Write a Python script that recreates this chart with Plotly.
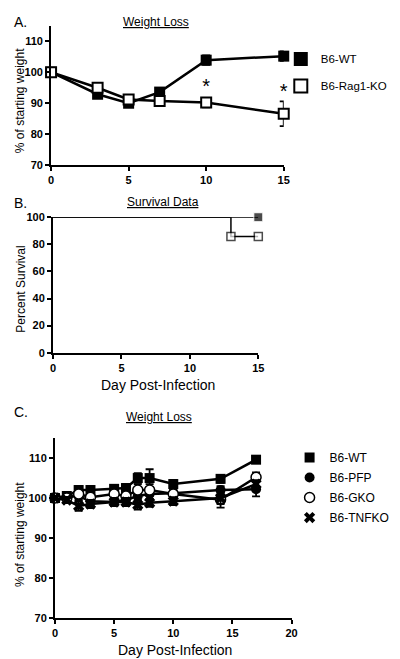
import plotly.graph_objects as go

W, H = 400, 659

# ---------- Data ----------
# Panel A: weight loss
days_a = [0, 3, 5, 7, 10, 15]
wt_a = [100, 92.9, 90.0, 93.6, 103.9, 105.2]
wt_a_err = [0.6, 0.8, 0.8, 1.0, 1.5, 1.5]
ko_a = [100, 95.0, 91.2, 90.7, 90.2, 86.6]
ko_a_err = [0.5, 0.8, 0.8, 0.8, 1.5, 4.0]
star_days = [10, 15]
star_vals = [95.0, 93.2]

# Panel B: survival
surv_wt_days = [0, 15]
surv_wt = [100, 100]
surv_ko_days = [0, 13, 15]
surv_ko = [100, 85.7, 85.7]

# Panel C: weight loss, knockouts
days_c = [0, 1, 2, 3, 5, 6, 7, 8, 10, 14, 17]
wt_c = [100, 100.5, 102.0, 102.0, 102.3, 102.5, 105.0, 105.0, 103.5, 104.8, 109.6]
wt_c_err = [0.5, 0.8, 1.0, 1.0, 1.0, 1.0, 1.2, 2.2, 1.0, 1.0, 0.8]
pfp_c = [100, 100.2, 100.5, 99.2, 99.0, 99.5, 100.5, 101.0, 101.2, 102.0, 102.2]
pfp_c_err = [0.5, 0.8, 1.0, 1.0, 1.0, 1.0, 1.2, 1.2, 1.0, 1.0, 1.8]
gko_c = [100, 100.0, 101.0, 100.2, 101.0, 100.5, 102.0, 102.0, 101.0, 99.6, 105.2]
gko_c_err = [0.5, 0.8, 1.0, 1.0, 1.0, 1.0, 1.5, 1.5, 1.0, 2.0, 1.2]
tnf_c = [100, 99.5, 98.0, 98.5, 99.0, 99.0, 98.3, 98.8, 99.2, 100.0, 103.5]
tnf_c_err = [0.5, 0.8, 1.2, 1.0, 1.0, 1.0, 1.2, 1.0, 1.0, 1.5, 1.0]

ticks_a_x = [0, 5, 10, 15]
ticks_a_y = [70, 80, 90, 100, 110]
ticks_b_y = [0, 20, 40, 60, 80, 100]
ticks_c_x = [0, 5, 10, 15, 20]

FAM = "Liberation Sans, Arial"

fig = go.Figure()

def eb(arr):
    return dict(type="data", array=arr, visible=True, color="black", thickness=1.8, width=4)

# Panel A traces
fig.add_trace(go.Scatter(x=days_a, y=wt_a, error_y=eb(wt_a_err), mode="lines+markers",
                         line=dict(color="black", width=2.5),
                         marker=dict(symbol="square", size=11, color="black"),
                         showlegend=False, cliponaxis=False, xaxis="x", yaxis="y"))
fig.add_trace(go.Scatter(x=days_a, y=ko_a, error_y=eb(ko_a_err), mode="lines+markers",
                         line=dict(color="black", width=2.5),
                         marker=dict(symbol="square", size=10, color="white",
                                     line=dict(color="black", width=2)),
                         showlegend=False, cliponaxis=False, xaxis="x", yaxis="y"))
fig.add_trace(go.Scatter(x=star_days, y=star_vals, mode="text", text=["*", "*"],
                         textfont=dict(family=FAM, size=20, color="black"),
                         showlegend=False, cliponaxis=False, xaxis="x", yaxis="y"))
# legend entries A (markers only)
fig.add_trace(go.Scatter(x=[None], y=[None], mode="markers", name="B6-WT", legend="legend",
                         marker=dict(symbol="square", size=14, color="black"),
                         xaxis="x", yaxis="y", legendgroup="a1"))
fig.add_trace(go.Scatter(x=[None], y=[None], mode="markers", name="B6-Rag1-KO", legend="legend",
                         marker=dict(symbol="square", size=13, color="white",
                                     line=dict(color="black", width=2)),
                         xaxis="x", yaxis="y", legendgroup="a2"))

# Panel B traces
fig.add_trace(go.Scatter(x=surv_wt_days, y=surv_wt, mode="lines+markers",
                         line=dict(color="black", width=1.5, shape="hv"),
                         marker=dict(symbol="square", size=[0, 9], color="black"),
                         showlegend=False, cliponaxis=False, xaxis="x2", yaxis="y2"))
fig.add_trace(go.Scatter(x=surv_ko_days, y=surv_ko, mode="lines+markers",
                         line=dict(color="black", width=1.5, shape="hv"),
                         marker=dict(symbol="square", size=[0, 8, 8], color="white",
                                     line=dict(color="black", width=1.5)),
                         showlegend=False, cliponaxis=False, xaxis="x2", yaxis="y2"))

# Panel C traces
series_c = [
    ("B6-WT", wt_c, wt_c_err, dict(symbol="square", size=10, color="black")),
    ("B6-PFP", pfp_c, pfp_c_err, dict(symbol="circle", size=10, color="black")),
    ("B6-GKO", gko_c, gko_c_err, dict(symbol="circle", size=10, color="white",
                                      line=dict(color="black", width=1.5))),
    ("B6-TNFKO", tnf_c, tnf_c_err, dict(symbol="x", size=10, color="black")),
]
for i, (name, vals, err, mk) in enumerate(series_c):
    fig.add_trace(go.Scatter(x=days_c, y=vals, error_y=eb(err), mode="lines+markers",
                             line=dict(color="black", width=2.5), marker=mk,
                             showlegend=False, cliponaxis=False, xaxis="x3", yaxis="y3"))
for i, (name, vals, err, mk) in enumerate(series_c):
    fig.add_trace(go.Scatter(x=[None], y=[None], mode="markers", name=name, legend="legend2",
                             marker=dict(mk), xaxis="x3", yaxis="y3", legendgroup="c%d" % i))

def px_x(p):
    return p / W

def px_y(p):
    return 1 - p / H

def bold(vals):
    return ["<b>%s</b>" % v for v in vals]

axis_common = dict(showline=True, linecolor="black", linewidth=2, ticks="outside",
                   ticklen=4, tickwidth=2, tickcolor="black", showgrid=False,
                   zeroline=False, tickfont=dict(family=FAM, size=11, color="black"),
                   fixedrange=True)

fig.update_layout(
    width=W, height=H, margin=dict(l=0, r=0, t=0, b=0),
    paper_bgcolor="white", plot_bgcolor="white",
    showlegend=True,
    xaxis=dict(domain=[px_x(41), px_x(279)], range=[0, 15], tickvals=ticks_a_x,
               ticktext=bold(ticks_a_x), anchor="y", **axis_common),
    yaxis=dict(domain=[px_y(154), px_y(12)], range=[70, 115], tickvals=ticks_a_y,
               ticktext=bold(ticks_a_y), anchor="x", **axis_common),
    xaxis2=dict(domain=[px_x(43), px_x(253)], range=[0, 15], tickvals=ticks_a_x,
                ticktext=bold(ticks_a_x), anchor="y2", **axis_common),
    yaxis2=dict(domain=[px_y(345), px_y(207)], range=[0, 100], tickvals=ticks_b_y,
                ticktext=bold(ticks_b_y), anchor="x2", **axis_common),
    xaxis3=dict(domain=[px_x(45), px_x(287)], range=[0, 20], tickvals=ticks_c_x,
                ticktext=bold(ticks_c_x), anchor="y3", **axis_common),
    yaxis3=dict(domain=[px_y(615), px_y(432)], range=[70, 115], tickvals=ticks_a_y,
                ticktext=bold(ticks_a_y), anchor="x3", **axis_common),
    legend=dict(x=px_x(276), y=px_y(31), xanchor="left", yanchor="top",
                font=dict(family=FAM, size=11.5, color="black"),
                tracegroupgap=8, bgcolor="rgba(0,0,0,0)", itemsizing="trace"),
    legend2=dict(x=px_x(285), y=px_y(437), xanchor="left", yanchor="top",
                 font=dict(family=FAM, size=12, color="black"),
                 tracegroupgap=1, bgcolor="rgba(0,0,0,0)", itemsizing="trace"),
)

ann = []
def add_text(text, x, y, size=12, angle=0, xanchor="center"):
    ann.append(dict(text=text, x=px_x(x), y=px_y(y), xref="paper", yref="paper",
                    showarrow=False, xanchor=xanchor, yanchor="middle", textangle=angle,
                    font=dict(family=FAM, size=size, color="black")))

add_text("A.", 1, 8, size=14, xanchor="left")
add_text("<u>Weight Loss</u>", 148, 8, size=12)
add_text("% of starting weight", 10, 88, size=12, angle=-90)
add_text("B.", 1, 192, size=14, xanchor="left")
add_text("<u>Survival Data</u>", 155, 191, size=12)
add_text("Percent Survival", 10, 280, size=12, angle=-90)
add_text("Day Post-Infection", 150, 378, size=14)
add_text("C.", 1, 405, size=14, xanchor="left")
add_text("<u>Weight Loss</u>", 151, 410, size=12)
add_text("% of starting weight", 10, 530, size=12, angle=-90)
add_text("Day Post-Infection", 168, 648, size=14)
fig.update_layout(annotations=ann)

fig.write_html("out.html")
